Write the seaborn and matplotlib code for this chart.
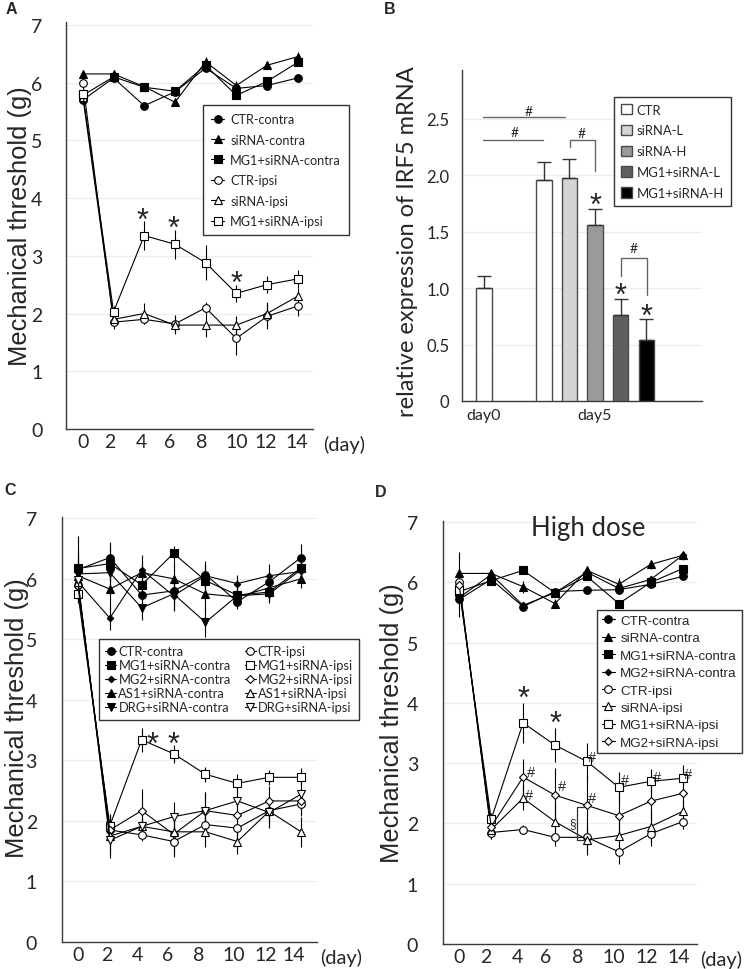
import numpy as np
import pandas as pd
import matplotlib.pyplot as plt
from matplotlib.patches import Patch
import seaborn as sns

# ---- data ----
days = [0, 2, 4, 6, 8, 10, 12, 14]

# panel A
a_ctr_contra = [5.70, 6.08, 5.60, 5.84, 6.25, 5.90, 5.95, 6.08]
a_sirna_contra = [6.15, 6.15, 5.93, 5.66, 6.36, 5.95, 6.30, 6.45]
a_mg1_contra = [5.78, 6.10, 5.92, 5.85, 6.30, 5.78, 6.02, 6.35]
a_ctr_ipsi = [6.00, 1.85, 1.90, 1.82, 2.10, 1.57, 1.95, 2.13]
a_sirna_ipsi = [5.75, 1.90, 2.00, 1.80, 1.80, 1.80, 2.00, 2.30]
a_mg1_ipsi = [5.80, 2.03, 3.35, 3.20, 2.88, 2.35, 2.50, 2.60]
a_ctr_contra_err = [0.05, 0.05, 0.05, 0.05, 0.05, 0.05, 0.05, 0.04]
a_sirna_contra_err = [0.05, 0.06, 0.05, 0.06, 0.08, 0.08, 0.06, 0.08]
a_mg1_contra_err = [0.05, 0.05, 0.06, 0.05, 0.05, 0.05, 0.05, 0.05]
a_ctr_ipsi_err = [0.08, 0.12, 0.08, 0.15, 0.10, 0.28, 0.22, 0.18]
a_sirna_ipsi_err = [0.05, 0.10, 0.18, 0.15, 0.20, 0.15, 0.20, 0.15]
a_mg1_ipsi_err = [0.05, 0.10, 0.25, 0.25, 0.30, 0.15, 0.15, 0.15]

# panel B
b_groups = ["CTR", "CTR", "siRNA-L", "siRNA-H", "MG1+siRNA-L", "MG1+siRNA-H"]
b_vals = [1.00, 1.96, 1.97, 1.56, 0.76, 0.54]
b_err = [0.11, 0.16, 0.17, 0.14, 0.14, 0.19]
b_legend = ["CTR", "siRNA-L", "siRNA-H", "MG1+siRNA-L", "MG1+siRNA-H"]
b_colors = ["#ffffff", "#d4d4d4", "#9a9a9a", "#5f5f5f", "#000000"]
b_ticklabels = ["day0", "day5"]

# panel C
c_ctr_contra = [6.15, 6.35, 5.73, 5.80, 6.07, 5.62, 5.95, 6.35]
c_mg1_contra = [6.17, 6.25, 5.90, 6.42, 5.97, 5.73, 5.78, 6.18]
c_mg2_contra = [5.95, 5.35, 6.15, 5.72, 6.05, 5.92, 6.05, 6.12]
c_as1_contra = [6.05, 5.83, 6.10, 6.00, 5.75, 5.70, 5.85, 6.00]
c_drg_contra = [6.08, 6.10, 5.52, 5.75, 5.28, 5.72, 5.75, 6.15]
c_ctr_ipsi = [5.90, 1.85, 1.77, 1.66, 1.94, 1.88, 2.17, 2.28]
c_mg1_ipsi = [5.75, 1.92, 3.34, 3.11, 2.77, 2.62, 2.72, 2.72]
c_mg2_ipsi = [5.88, 1.85, 2.17, 1.78, 2.17, 2.09, 2.33, 2.33]
c_as1_ipsi = [5.95, 1.75, 1.91, 1.82, 1.82, 1.66, 2.16, 1.82]
c_drg_ipsi = [5.98, 1.68, 1.91, 2.07, 2.17, 2.33, 2.14, 2.44]
c_ctr_contra_err = [0.55, 0.25, 0.22, 0.20, 0.22, 0.12, 0.15, 0.22]
c_mg1_contra_err = [0.30, 0.30, 0.20, 0.12, 0.25, 0.15, 0.15, 0.20]
c_mg2_contra_err = [0.30, 0.20, 0.25, 0.25, 0.20, 0.15, 0.20, 0.15]
c_as1_contra_err = [0.25, 0.35, 0.20, 0.30, 0.30, 0.15, 0.20, 0.15]
c_drg_contra_err = [0.30, 0.30, 0.20, 0.25, 0.25, 0.12, 0.15, 0.15]
c_ctr_ipsi_err = [0.25, 0.20, 0.10, 0.25, 0.20, 0.25, 0.15, 0.20]
c_mg1_ipsi_err = [0.10, 0.20, 0.20, 0.15, 0.12, 0.15, 0.12, 0.15]
c_mg2_ipsi_err = [0.20, 0.25, 0.35, 0.30, 0.30, 0.30, 0.25, 0.20]
c_as1_ipsi_err = [0.20, 0.30, 0.15, 0.20, 0.25, 0.20, 0.25, 0.25]
c_drg_ipsi_err = [0.20, 0.30, 0.15, 0.25, 0.30, 0.25, 0.25, 0.20]

# panel D
d_ctr_contra = [5.72, 6.05, 5.60, 5.85, 5.87, 5.88, 5.97, 6.10]
d_sirna_contra = [6.15, 6.15, 5.93, 5.65, 6.20, 5.97, 6.30, 6.45]
d_mg1_contra = [5.85, 6.03, 6.20, 5.83, 6.10, 5.65, 6.00, 6.23]
d_mg2_contra = [5.75, 6.13, 5.62, 5.83, 6.17, 5.90, 6.05, 6.45]
d_ctr_ipsi = [6.00, 1.85, 1.90, 1.77, 1.77, 1.53, 1.83, 2.03]
d_sirna_ipsi = [5.95, 1.90, 2.42, 2.03, 1.73, 1.80, 1.95, 2.20]
d_mg1_ipsi = [5.88, 2.07, 3.67, 3.30, 3.03, 2.60, 2.70, 2.75]
d_mg2_ipsi = [5.95, 1.95, 2.77, 2.47, 2.30, 2.13, 2.37, 2.50]
d_ctr_contra_err = [0.30, 0.05, 0.05, 0.05, 0.05, 0.05, 0.05, 0.05]
d_sirna_contra_err = [0.35, 0.06, 0.10, 0.08, 0.06, 0.10, 0.08, 0.08]
d_mg1_contra_err = [0.20, 0.05, 0.05, 0.05, 0.05, 0.05, 0.05, 0.05]
d_mg2_contra_err = [0.20, 0.05, 0.05, 0.05, 0.05, 0.05, 0.05, 0.05]
d_ctr_ipsi_err = [0.10, 0.10, 0.08, 0.15, 0.15, 0.20, 0.20, 0.12]
d_sirna_ipsi_err = [0.10, 0.15, 0.20, 0.30, 0.25, 0.25, 0.25, 0.20]
d_mg1_ipsi_err = [0.10, 0.10, 0.33, 0.28, 0.30, 0.25, 0.20, 0.22]
d_mg2_ipsi_err = [0.10, 0.12, 0.30, 0.45, 0.50, 0.40, 0.30, 0.30]

# ---- layout ----
W, H = 744, 970
sns.set_style("white")
plt.rcParams["font.family"] = ["Liberation Sans", "DejaVu Sans"]
TICKFONT = "Lato"
LABELFONT = "Liberation Sans"

fig = plt.figure(figsize=(W / 100, H / 100), dpi=100)


def px_axes(left, top, right, bottom):
    return fig.add_axes([left / W, 1 - bottom / H, (right - left) / W, (bottom - top) / H])


def ftext(x, y, s, **kw):
    fig.text(x / W, 1 - y / H, s, **kw)


def glyph(ax, x, y, s, fs, lift, family=LABELFONT):
    # put the visual centre of a glyph at (x, y)
    ax.annotate(s, (x, y), xytext=(0, -lift * fs), textcoords="offset points",
                ha="center", va="baseline", fontsize=fs, family=family, zorder=6)


def style_axes(ax, ylim, xlim, ypad):
    ax.set_ylim(*ylim)
    ax.set_xlim(*xlim)
    for s in ["top", "right"]:
        ax.spines[s].set_visible(False)
    for s in ["left", "bottom"]:
        ax.spines[s].set_color("#3a3a3a")
        ax.spines[s].set_linewidth(1.0)
    ax.grid(axis="y", color="#ececec", linewidth=0.8)
    ax.grid(axis="x", visible=False)
    ax.set_axisbelow(True)
    ax.tick_params(length=0)
    ax.tick_params(axis="y", pad=ypad)
    ax.set_xlabel("")


def series(ax, y, err, label, marker, filled, ms):
    ax.errorbar(days, y, yerr=err, fmt="none", ecolor="black", elinewidth=0.8, capsize=0, zorder=2)
    sns.lineplot(x=days, y=y, ax=ax, color="black", linewidth=0.8, marker=marker, markersize=ms,
                 markerfacecolor="black" if filled else "white", markeredgecolor="black",
                 markeredgewidth=0.8, label=label, zorder=3)


def line_panel(ax, entries, tickpos):
    for y, err, label, marker, filled, ms in entries:
        series(ax, y, err, label, marker, filled, ms)
    ax.set_yticks(range(8))
    ax.set_yticklabels([str(v) for v in range(8)], family=TICKFONT, fontsize=14)
    ax.set_xticks(tickpos)
    ax.set_xticklabels([str(d) for d in days], family=TICKFONT, fontsize=14)
    ax.tick_params(axis="x", pad=3)
    ax.set_ylabel("")


def legend(ax, x, y, fs, family, ls, hl, htp, ncol=1, colsp=1.0, bpad=0.4, hh=0.7,
           handles=None, labels=None):
    if handles is None:
        handles, labels = ax.get_legend_handles_labels()
    leg = ax.legend(handles, labels, loc="upper left", bbox_to_anchor=(x / W, 1 - y / H),
                    bbox_transform=fig.transFigure, borderaxespad=0, ncol=ncol,
                    prop={"family": family, "size": fs}, labelspacing=ls, handlelength=hl,
                    handleheight=hh, handletextpad=htp, columnspacing=colsp, borderpad=bpad,
                    frameon=True, fancybox=False, framealpha=1)
    leg.get_frame().set_edgecolor("#333333")
    leg.get_frame().set_linewidth(1.0)
    leg.set_zorder(10)
    return leg


STAR = 22

# ---------- panel A ----------
axA = px_axes(66, 23, 313, 430)
style_axes(axA, (0, 7.05), (-1.1, 15.0), 17)
line_panel(axA, [
    (a_ctr_contra, a_ctr_contra_err, "CTR-contra", "o", True, 5.5),
    (a_sirna_contra, a_sirna_contra_err, "siRNA-contra", "^", True, 6),
    (a_mg1_contra, a_mg1_contra_err, "MG1+siRNA-contra", "s", True, 5.5),
    (a_ctr_ipsi, a_ctr_ipsi_err, "CTR-ipsi", "o", False, 5.5),
    (a_sirna_ipsi, a_sirna_ipsi_err, "siRNA-ipsi", "^", False, 6),
    (a_mg1_ipsi, a_mg1_ipsi_err, "MG1+siRNA-ipsi", "s", False, 5.5),
], [0.04, 1.77, 3.83, 5.67, 7.73, 10.04, 11.95, 13.96])
legend(axA, 203, 106, 9.1, TICKFONT, 0.66, 1.05, 0.45, bpad=0.65)
for sx, sy in [(3.9, 3.78), (5.9, 3.64), (10.0, 2.69)]:
    glyph(axA, sx, sy, "*", STAR, 0.58)
ftext(20, 226, "Mechanical threshold (g)", rotation=90, ha="center", va="center",
      fontsize=18.4, family=LABELFONT)
ftext(344, 445, "(day)", ha="center", va="center", fontsize=14.5, family=TICKFONT)

# ---------- panel B ----------
b_x = [0, 2.34, 3.34, 4.34, 5.34, 6.34]
axB = px_axes(462, 71, 702, 402)
pal = dict(zip(b_legend, b_colors))
sns.barplot(x=b_x, y=b_vals, hue=b_groups, hue_order=b_legend, palette=pal, native_scale=True,
            width=0.6, dodge=False, edgecolor="#4a4a4a", linewidth=1.0, legend=False, ax=axB,
            errorbar=None, zorder=3)
axB.errorbar(b_x, b_vals, yerr=[np.zeros(len(b_vals)), b_err], fmt="none", ecolor="#333333",
             elinewidth=1.0, capsize=5, capthick=1.0, zorder=4)
style_axes(axB, (0, 2.93), (-0.86, 8.52), 9)
axB.set_yticks([0, 0.5, 1.0, 1.5, 2.0, 2.5])
axB.set_yticklabels(["0", "0.5", "1.0", "1.5", "2.0", "2.5"], family=TICKFONT, fontsize=12)
axB.set_xticks([b_x[0], b_x[3]])
axB.set_xticklabels(b_ticklabels, family=TICKFONT, fontsize=11.5)
axB.tick_params(axis="x", pad=5)
axB.set_ylabel("")
sig = "#666666"
axB.plot([-0.04, 3.16], [2.51, 2.51], color=sig, lw=1, zorder=5)
axB.plot([-0.04, 2.30], [2.31, 2.31], color=sig, lw=1, zorder=5)
axB.plot([3.36, 3.36, 4.34, 4.34], [2.25, 2.31, 2.31, 2.04], color=sig, lw=1, zorder=5)
axB.plot([5.36, 5.36, 6.37, 6.37], [1.11, 1.27, 1.27, 0.94], color=sig, lw=1, zorder=5)
for hx, hy in [(1.76, 2.58), (1.2, 2.39), (3.83, 2.38), (5.86, 1.36)]:
    glyph(axB, hx, hy, "#", 10, 0.36, family=TICKFONT)
for sx, sy in [(4.34, 1.81), (5.34, 1.02), (6.34, 0.83)]:
    glyph(axB, sx, sy, "*", STAR, 0.58)
b_handles = [Patch(facecolor=c, edgecolor="#4a4a4a", linewidth=1.0) for c in b_colors]
legend(axB, 614, 98, 9.4, TICKFONT, 0.68, 0.85, 0.4, hh=0.85, handles=b_handles,
       labels=b_legend, bpad=0.5)
ftext(408, 242, "relative expression of IRF5 mRNA", rotation=90, ha="center", va="center",
      fontsize=17, family=TICKFONT)

# ---------- panel C ----------
axC = px_axes(62, 518, 317, 943)
style_axes(axC, (0, 7.02), (-1.0, 15.0), 18)
line_panel(axC, [
    (c_ctr_contra, c_ctr_contra_err, "CTR-contra", "o", True, 5.5),
    (c_mg1_contra, c_mg1_contra_err, "MG1+siRNA-contra", "s", True, 5.5),
    (c_mg2_contra, c_mg2_contra_err, "MG2+siRNA-contra", "D", True, 3.3),
    (c_as1_contra, c_as1_contra_err, "AS1+siRNA-contra", "^", True, 6),
    (c_drg_contra, c_drg_contra_err, "DRG+siRNA-contra", "v", True, 6),
    (c_ctr_ipsi, c_ctr_ipsi_err, "CTR-ipsi", "o", False, 5.5),
    (c_mg1_ipsi, c_mg1_ipsi_err, "MG1+siRNA-ipsi", "s", False, 5.5),
    (c_mg2_ipsi, c_mg2_ipsi_err, "MG2+siRNA-ipsi", "D", False, 4),
    (c_as1_ipsi, c_as1_ipsi_err, "AS1+siRNA-ipsi", "^", False, 6),
    (c_drg_ipsi, c_drg_ipsi_err, "DRG+siRNA-ipsi", "v", False, 6),
], [0, 1.82, 3.71, 5.6, 7.55, 9.75, 11.76, 13.53])
legend(axC, 99, 640, 9.3, TICKFONT, 0.15, 0.85, 0.15, ncol=2, colsp=1.1, bpad=0.5)
for sx, sy in [(4.65, 3.42), (5.97, 3.42)]:
    glyph(axC, sx, sy, "*", STAR, 0.58)
ftext(17, 718, "Mechanical threshold (g)", rotation=90, ha="center", va="center",
      fontsize=18.4, family=LABELFONT)
ftext(341, 958, "(day)", ha="center", va="center", fontsize=14.5, family=TICKFONT)

# ---------- panel D ----------
axD = px_axes(443, 522, 697, 945)
style_axes(axD, (0, 7.02), (-1.02, 14.9), 18)
line_panel(axD, [
    (d_ctr_contra, d_ctr_contra_err, "CTR-contra", "o", True, 5.5),
    (d_sirna_contra, d_sirna_contra_err, "siRNA-contra", "^", True, 6),
    (d_mg1_contra, d_mg1_contra_err, "MG1+siRNA-contra", "s", True, 5.5),
    (d_mg2_contra, d_mg2_contra_err, "MG2+siRNA-contra", "D", True, 3.3),
    (d_ctr_ipsi, d_ctr_ipsi_err, "CTR-ipsi", "o", False, 5.5),
    (d_sirna_ipsi, d_sirna_ipsi_err, "siRNA-ipsi", "^", False, 6),
    (d_mg1_ipsi, d_mg1_ipsi_err, "MG1+siRNA-ipsi", "s", False, 5.5),
    (d_mg2_ipsi, d_mg2_ipsi_err, "MG2+siRNA-ipsi", "D", False, 4),
], [0, 1.63, 3.66, 5.43, 7.42, 9.67, 11.76, 13.75])
legend(axD, 597, 611, 9.6, LABELFONT, 0.38, 1.0, 0.4, bpad=0.35)
ftext(588, 529, "High dose", ha="center", va="center", fontsize=18.5, family=TICKFONT)
for sx, sy in [(4.0, 4.23), (6.0, 3.81)]:
    glyph(axD, sx, sy, "*", STAR, 0.58)
for hx, hy in [(8.32, 3.12), (10.4, 2.74), (12.4, 2.79), (14.35, 2.85),
               (4.5, 2.87), (6.44, 2.64), (8.32, 2.45), (4.38, 2.50)]:
    glyph(axD, hx, hy, "#", 10.5, 0.36)
axD.plot([7.8, 7.35, 7.35, 7.8], [2.28, 2.28, 1.72, 1.72], color="#333333", lw=0.9, zorder=5)
glyph(axD, 7.1, 2.02, "§", 8.5, 0.35)
ftext(392, 723, "Mechanical threshold (g)", rotation=90, ha="center", va="center",
      fontsize=18.4, family=LABELFONT)
ftext(721, 960, "(day)", ha="center", va="center", fontsize=14.5, family=TICKFONT)

# panel letters
for letter, lx, ly in [("A", 11, 10), ("B", 390, 10), ("C", 10, 491), ("D", 381, 493)]:
    ftext(lx, ly, letter, ha="center", va="center", fontsize=11.5, fontweight="bold", family=LABELFONT)

fig.savefig("out.png", dpi=100)
